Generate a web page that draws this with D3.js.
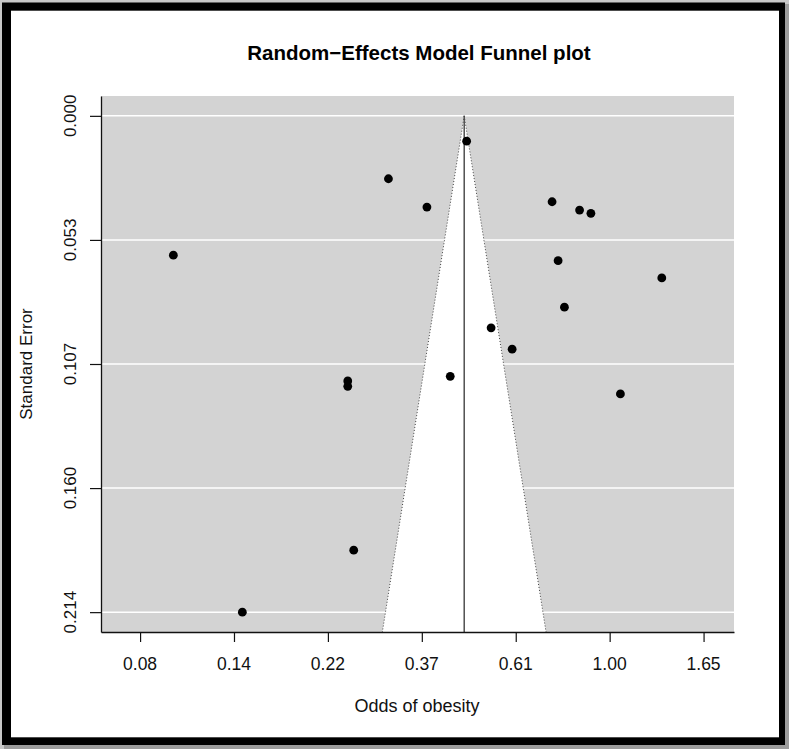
<!DOCTYPE html>
<html>
<head>
<meta charset="utf-8">
<script src="https://cdn.jsdelivr.net/npm/d3@7"></script>
<style>
  html, body { margin: 0; padding: 0; background: #ffffff; }
  svg { display: block; font-family: "Liberation Sans", Arial, Helvetica, sans-serif; }
</style>
</head>
<body>
<svg id="chart" width="789" height="749"></svg>
<script>
// ---------------- data ----------------
const studyOdds = [0.098, 0.308, 0.248, 0.248, 0.467, 0.378, 0.736, 0.852, 0.905,
                   0.760, 1.320, 0.786, 0.532, 0.595, 0.428, 1.059, 0.256, 0.1415];
const studySE   = [0.0600, 0.0271, 0.1142, 0.1165, 0.0109, 0.0393, 0.0370, 0.0406, 0.0420,
                   0.0624, 0.0698, 0.0824, 0.0913, 0.1005, 0.1122, 0.1198, 0.1871, 0.2138];
const pooledOdds = 0.461;               // random-effects summary estimate
const xTickLogOdds = [-2.5, -2, -1.5, -1, -0.5, 0, 0.5];
const xTickLabels  = ["0.08", "0.14", "0.22", "0.37", "0.61", "1.00", "1.65"];
const yTickValues  = [0, 0.05345, 0.1069, 0.16035, 0.2138];
const yTickLabels  = ["0.000", "0.053", "0.107", "0.160", "0.214"];
const xLimLog = [-2.708, 0.662];
const titleText = "Random\u2212Effects Model Funnel plot";
const xLabel = "Odds of obesity";
const yLabel = "Standard Error";

// ---------------- layout ----------------
const W = 789, H = 749;
const panel = { left: 101, right: 734, top: 96, bottom: 632 };
const svg = d3.select("#chart");

// frame with shadow
svg.append("rect").attr("x", 0).attr("y", 0).attr("width", W).attr("height", H).attr("fill", "#c8c8c8");
svg.append("rect").attr("x", 4).attr("y", 4).attr("width", W - 4).attr("height", H - 4).attr("fill", "#9c9c9c");
svg.append("rect").attr("x", 2).attr("y", 2.5).attr("width", 783).attr("height", 742.5).attr("fill", "#000");
svg.append("rect").attr("x", 11).attr("y", 10.7).attr("width", 768).attr("height", 726.6).attr("fill", "#fff");

const yMax = d3.max(studySE);
const x = d3.scaleLinear().domain(xLimLog).range([panel.left, panel.right]);
const y = d3.scaleLinear().domain([-0.04 * yMax, 1.04 * yMax]).range([panel.top, panel.bottom]);

// panel background
svg.append("rect")
  .attr("x", x(xLimLog[0])).attr("y", y(-0.04 * yMax))
  .attr("width", x(xLimLog[1]) - x(xLimLog[0]))
  .attr("height", y(1.04 * yMax) - y(-0.04 * yMax))
  .attr("fill", "#d3d3d3");

// gridlines
svg.append("g").selectAll("line").data(yTickValues).join("line")
  .attr("x1", x(xLimLog[0])).attr("x2", x(xLimLog[1]))
  .attr("y1", d => y(d)).attr("y2", d => y(d))
  .attr("stroke", "#ffffff").attr("stroke-width", 1.5);

// funnel region
const c = Math.log(pooledOdds);
const seBottom = 1.04 * yMax;
const funnelPts = [[c, 0], [c - 1.96 * seBottom, seBottom], [c + 1.96 * seBottom, seBottom]];
svg.append("polygon")
  .attr("points", funnelPts.map(p => [x(p[0]), y(p[1])].join(",")).join(" "))
  .attr("fill", "#ffffff");

// dotted funnel edges
[[funnelPts[0], funnelPts[1]], [funnelPts[0], funnelPts[2]]].forEach(seg => {
  svg.append("line")
    .attr("x1", x(seg[0][0])).attr("y1", y(seg[0][1]))
    .attr("x2", x(seg[1][0])).attr("y2", y(seg[1][1]))
    .attr("stroke", "#444").attr("stroke-width", 1)
    .attr("stroke-dasharray", "1,2");
});

// vertical summary line
svg.append("line")
  .attr("x1", x(c)).attr("x2", x(c))
  .attr("y1", y(0)).attr("y2", y(seBottom))
  .attr("stroke", "#444").attr("stroke-width", 1.4);

// study points
svg.append("g").selectAll("circle").data(d3.range(studyOdds.length)).join("circle")
  .attr("cx", i => x(Math.log(studyOdds[i])))
  .attr("cy", i => y(studySE[i]))
  .attr("r", 4.4)
  .attr("fill", "#000");

// axes
const gx = svg.append("g").attr("transform", `translate(0,${panel.bottom})`)
  .call(d3.axisBottom(x).tickValues(xTickLogOdds).tickFormat("").tickSize(10).tickSizeOuter(0));
const gy = svg.append("g").attr("transform", `translate(${panel.left},0)`)
  .call(d3.axisLeft(y).tickValues(yTickValues).tickFormat("").tickSize(11).tickSizeOuter(0));
[gx, gy].forEach(g => {
  g.selectAll("path.domain").attr("stroke", "#111").attr("stroke-width", 1.3);
  g.selectAll(".tick line").attr("stroke", "#111").attr("stroke-width", 1.2);
});

// tick labels
svg.append("g").selectAll("text").data(xTickLogOdds).join("text")
  .attr("x", d => x(d)).attr("y", 670)
  .attr("text-anchor", "middle").attr("font-size", 17.5).attr("fill", "#111")
  .text((d, i) => xTickLabels[i]);
svg.append("g").selectAll("text").data(yTickValues).join("text")
  .attr("transform", d => `translate(75.5,${y(d)}) rotate(-90)`)
  .attr("text-anchor", "middle").attr("font-size", 17).attr("fill", "#111")
  .text((d, i) => yTickLabels[i]);

// titles
svg.append("text").attr("x", 419).attr("y", 60)
  .attr("text-anchor", "middle").attr("font-size", 20.5).attr("font-weight", "bold").attr("fill", "#000")
  .text(titleText);
svg.append("text").attr("x", 417).attr("y", 711.5)
  .attr("text-anchor", "middle").attr("font-size", 18).attr("fill", "#111")
  .text(xLabel);
svg.append("text").attr("transform", `translate(32,${(panel.top + panel.bottom) / 2}) rotate(-90)`)
  .attr("text-anchor", "middle").attr("font-size", 17).attr("fill", "#111")
  .text(yLabel);
</script>
</body>
</html>
